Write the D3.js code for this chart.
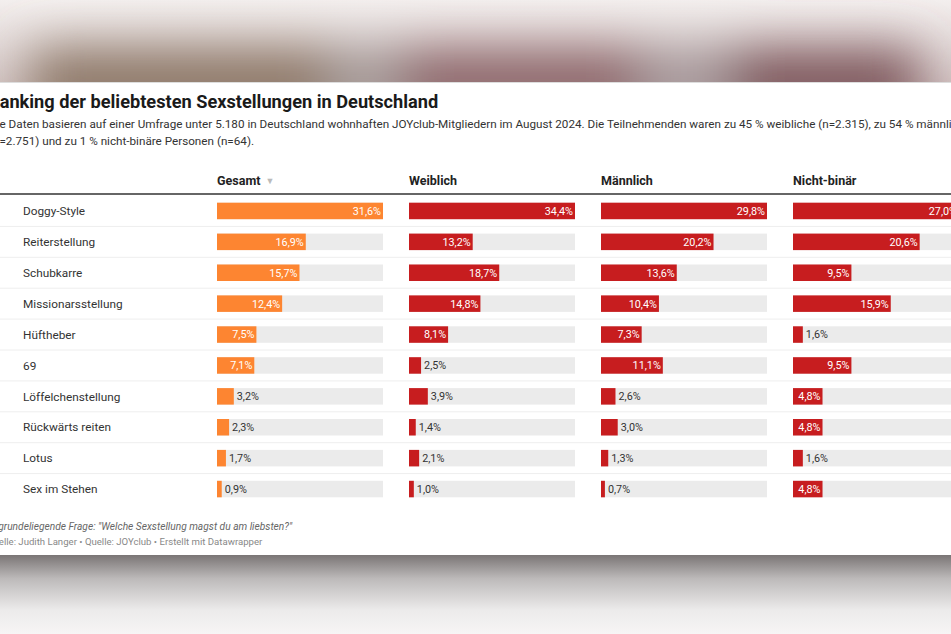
<!DOCTYPE html>
<html lang="de">
<head>
  <meta charset="UTF-8">
  <title>Ranking der beliebtesten Sexstellungen in Deutschland</title>
  <script src="https://d3js.org/d3.v7.min.js"></script>
  <style>
    body { margin: 0; background: #fff; overflow: hidden; }
    svg { display: block; font-family: Roboto, "Noto Sans", sans-serif; }
    .title { font-size: 18.2px; font-weight: bold; fill: #1a1a1a; }
    .desc { font-size: 11.7px; fill: #333; }
    .head { font-size: 12.5px; font-weight: bold; fill: #222; }
    .rowlabel { font-size: 11.8px; fill: #333; }
    .val { font-size: 10.8px; }
    .notes { font-size: 10.2px; font-style: italic; fill: #666; }
    .byline { font-size: 9.6px; fill: #888; }
  </style>
</head>
<body>
<svg width="951" height="634"></svg>
<script>
  const positions = ["Doggy-Style", "Reiterstellung", "Schubkarre", "Missionarsstellung", "Hüftheber",
    "69", "Löffelchenstellung", "Rückwärts reiten", "Lotus", "Sex im Stehen"];
  const gesamt      = [31.6, 16.9, 15.7, 12.4, 7.5, 7.1, 3.2, 2.3, 1.7, 0.9];
  const weiblich    = [34.4, 13.2, 18.7, 14.8, 8.1, 2.5, 3.9, 1.4, 2.1, 1.0];
  const maennlich   = [29.8, 20.2, 13.6, 10.4, 7.3, 11.1, 2.6, 3.0, 1.3, 0.7];
  const nichtbinaer = [27.0, 20.6, 9.5, 15.9, 1.6, 9.5, 4.8, 4.8, 1.6, 4.8];
  const columnNames = ["Gesamt", "Weiblich", "Männlich", "Nicht-binär"];

  const columns = [
    { name: columnNames[0], values: gesamt, color: "#fd8531" },
    { name: columnNames[1], values: weiblich, color: "#c71d1f" },
    { name: columnNames[2], values: maennlich, color: "#c71d1f" },
    { name: columnNames[3], values: nichtbinaer, color: "#c71d1f" }
  ];

  const svg = d3.select("svg");
  const W = 951, H = 634;
  const defs = svg.append("defs");

  // blurred photo behind the screenshot card
  defs.append("filter").attr("id", "blur")
    .attr("x", "-30%").attr("y", "-100%").attr("width", "160%").attr("height", "300%")
    .append("feGaussianBlur").attr("stdDeviation", 26);

  const topG = defs.append("linearGradient").attr("id", "topfade")
    .attr("x1", 0).attr("y1", 0).attr("x2", 0).attr("y2", 1);
  topG.append("stop").attr("offset", "0%").attr("stop-color", "#f4f0ef");
  topG.append("stop").attr("offset", "100%").attr("stop-color", "#d2c4c3");

  const botG = defs.append("linearGradient").attr("id", "botfade")
    .attr("x1", 0).attr("y1", 0).attr("x2", 0).attr("y2", 1);
  botG.append("stop").attr("offset", "0%").attr("stop-color", "#7a7575");
  botG.append("stop").attr("offset", "30%").attr("stop-color", "#bdbaba");
  botG.append("stop").attr("offset", "70%").attr("stop-color", "#ecebeb");
  botG.append("stop").attr("offset", "100%").attr("stop-color", "#f7f5f5");

  svg.append("rect").attr("width", W).attr("height", 90).attr("fill", "url(#topfade)");
  const blobs = svg.append("g").attr("filter", "url(#blur)");
  [
    { x: 30, w: 300, c: "#8a7464" },
    { x: 330, w: 70, c: "#a49a98" },
    { x: 400, w: 240, c: "#8b6367" },
    { x: 640, w: 90, c: "#a5979a" },
    { x: 730, w: 190, c: "#7a5358" }
  ].forEach(b => {
    blobs.append("rect").attr("x", b.x).attr("y", 50).attr("width", b.w).attr("height", 70).attr("fill", b.c);
  });
  svg.append("rect").attr("y", 555).attr("width", W).attr("height", H - 555).attr("fill", "url(#botfade)");

  // card
  svg.append("rect").attr("x", 0).attr("y", 82).attr("width", W).attr("height", 473).attr("fill", "#fff");
  svg.append("line").attr("x1", 0).attr("x2", W).attr("y1", 82.5).attr("y2", 82.5)
    .attr("stroke", "#ddd").attr("stroke-width", 1);

  // header texts
  const left = -12;
  svg.append("text").attr("class", "title").attr("x", left).attr("y", 107.5)
    .text("Ranking der beliebtesten Sexstellungen in Deutschland");
  svg.append("text").attr("class", "desc").attr("x", left + 1).attr("y", 128)
    .text("Die Daten basieren auf einer Umfrage unter 5.180 in Deutschland wohnhaften JOYclub-Mitgliedern im August 2024. Die Teilnehmenden waren zu 45 % weibliche (n=2.315), zu 54 % männliche");
  svg.append("text").attr("class", "desc").attr("x", left + 1).attr("y", 145)
    .text("(n=2.751) und zu 1 % nicht-binäre Personen (n=64).");

  // table geometry
  const colX = d3.scaleLinear().domain([0, 1]).range([217, 409]);
  const barW = 166;
  const rowY = d3.scaleBand().domain(positions).range([195.5, 504.5]);
  const barH = 16.5;

  columns.forEach((c, i) => {
    const t = svg.append("text").attr("class", "head").attr("x", colX(i)).attr("y", 184.5).text(c.name);
    if (i === 0) {
      const tw = t.node().getComputedTextLength();
      svg.append("text").attr("x", colX(i) + tw + 5).attr("y", 184)
        .attr("font-size", 9).attr("fill", "#bbb").text("▼");
    }
  });
  svg.append("line").attr("x1", 0).attr("x2", W).attr("y1", 194).attr("y2", 194)
    .attr("stroke", "#333").attr("stroke-width", 1.6);

  // row separators
  svg.selectAll(".sep").data(positions.slice(0, -1)).join("line")
    .attr("class", "sep")
    .attr("x1", 0).attr("x2", W)
    .attr("y1", d => rowY(d) + rowY.bandwidth()).attr("y2", d => rowY(d) + rowY.bandwidth())
    .attr("stroke", "#eeeeee").attr("stroke-width", 1);

  svg.selectAll(".rowlabel").data(positions).join("text")
    .attr("class", "rowlabel")
    .attr("x", 23)
    .attr("y", d => rowY(d) + rowY.bandwidth() / 2)
    .attr("dy", "0.36em")
    .text(d => d);

  const fmt = v => d3.format(".1f")(v).replace(".", ",") + "%";

  columns.forEach((c, i) => {
    const x = d3.scaleLinear().domain([0, d3.max(c.values)]).range([0, barW]);
    const g = svg.append("g").attr("transform", `translate(${colX(i)},0)`);
    const rows = g.selectAll("g").data(c.values.map((v, j) => ({ v, label: positions[j] }))).join("g")
      .attr("transform", d => `translate(0,${rowY(d.label) + rowY.bandwidth() / 2 - barH / 2})`);
    rows.append("rect").attr("width", barW).attr("height", barH).attr("fill", "#ebebeb");
    rows.append("rect").attr("width", d => x(d.v)).attr("height", barH).attr("fill", c.color);
    rows.append("text").attr("class", "val")
      .attr("y", barH / 2).attr("dy", "0.36em")
      .text(d => fmt(d.v))
      .each(function (d) {
        const tw = this.getComputedTextLength();
        const bw = x(d.v);
        const el = d3.select(this);
        if (bw > tw + 3) {
          el.attr("x", bw - 2).attr("text-anchor", "end").attr("fill", "#fff");
        } else {
          el.attr("x", bw + 3).attr("text-anchor", "start").attr("fill", "#333");
        }
      });
  });

  // footer
  svg.append("text").attr("class", "notes").attr("x", -13).attr("y", 529.5)
    .text("Zugrundeliegende Frage: \"Welche Sexstellung magst du am liebsten?\"");
  svg.append("text").attr("class", "byline").attr("x", -17).attr("y", 545)
    .text("Tabelle: Judith Langer • Quelle: JOYclub • Erstellt mit Datawrapper");
</script>
</body>
</html>
